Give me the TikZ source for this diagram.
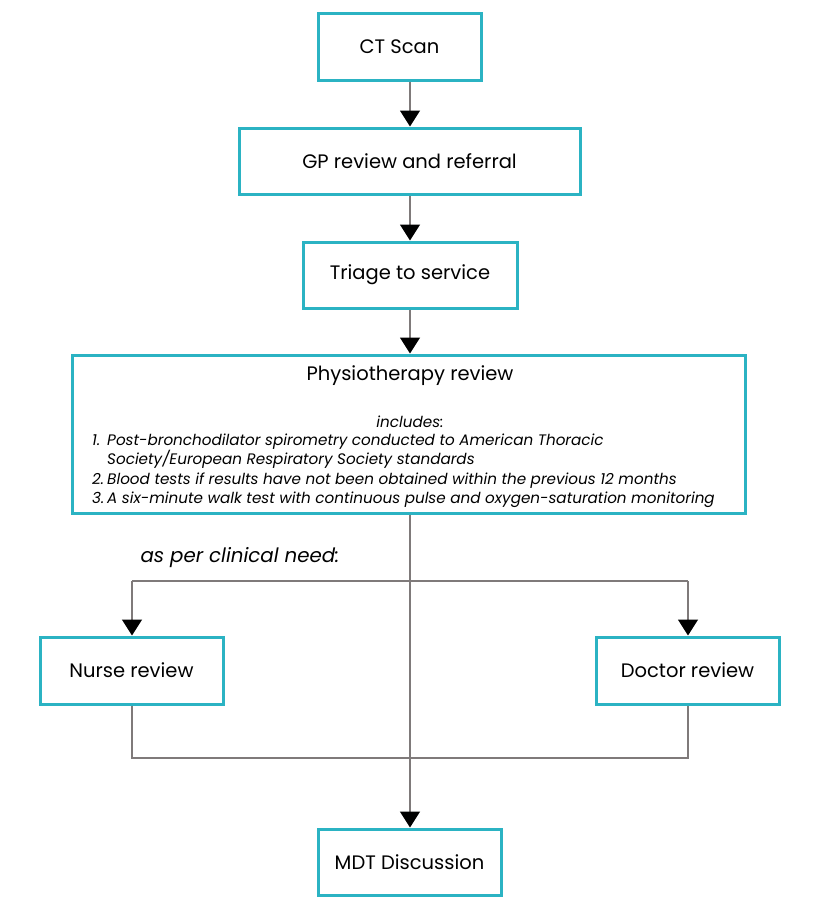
\documentclass[tikz,border=0pt]{standalone}
\usepackage{fontspec}
\setmainfont{Poppins}
\usetikzlibrary{arrows.meta}
\definecolor{boxteal}{HTML}{2BB3C3}
\definecolor{linegray}{HTML}{7F7A7A}
\begin{document}
\begin{tikzpicture}[x=1pt,y=-1pt,
  box/.style={draw=boxteal, line width=3pt, fill=white, inner sep=0pt, align=center,
    font=\fontsize{19.5}{23}\selectfont},
  conn/.style={draw=linegray, line width=1.3pt},
  arr/.style={conn, -{Triangle[length=16pt,width=20pt,color=black]}},
  listtxt/.style={anchor=base west, inner sep=0pt, font=\fontsize{15.2}{18}\selectfont\itshape}
]
\useasboundingbox[fill=white] (0,0) rectangle (818,921);

\node[box, minimum width=163pt, minimum height=67pt] (ct) at (399.5,46.5) {CT Scan};
\node[box, minimum width=341pt, minimum height=66pt] (gp) at (409.5,161) {GP review and referral};
\node[box, minimum width=214pt, minimum height=66pt] (tri) at (410,275) {Triage to service};
\node[box, minimum width=673pt, minimum height=158pt] (phys) at (408.5,434) {};
\node[box, minimum width=183pt, minimum height=67pt] (nurse) at (131.5,670.5) {Nurse review};
\node[box, minimum width=183pt, minimum height=67pt] (doc) at (687.5,670.5) {Doctor review};
\node[box, minimum width=183pt, minimum height=66pt] (mdt) at (409.5,862) {MDT Discussion};

% physiotherapy contents
\node[inner sep=0pt, font=\fontsize{19.5}{23}\selectfont] (ptitle) at (410,376) {Physiotherapy review};
\node[inner sep=0pt, font=\fontsize{15.2}{18}\selectfont\itshape] (incl) at (410,422) {includes:};
\node[listtxt] (n1) at (92,445) {1.};
\node[listtxt] (l1) at (107,445) {Post-bronchodilator spirometry conducted to American Thoracic};
\node[listtxt] (l1b) at (107,464) {Society/European Respiratory Society standards};
\node[listtxt] (n2) at (92,484) {2.};
\node[listtxt] (l2) at (107,484) {Blood tests if results have not been obtained within the previous 12 months};
\node[listtxt] (n3) at (92,503) {3.};
\node[listtxt] (l3) at (107,503) {A six-minute walk test with continuous pulse and oxygen-saturation monitoring};

\node[inner sep=0pt, font=\fontsize{19.8}{23}\selectfont\itshape] (need) at (240,558) {as per clinical need:};

% connectors
\coordinate (bl) at (132,581);
\coordinate (br) at (688,581);
\coordinate (ml) at (132,758);
\coordinate (mr) at (688,758);

\draw[arr] (ct.south -| 410,0) -- (gp.north -| 410,0);
\draw[arr] (gp.south -| 410,0) -- (tri.north -| 410,0);
\draw[arr] (tri.south -| 410,0) -- (phys.north -| 410,0);
\draw[conn] (bl) -- (br);
\draw[arr] (bl) -- (nurse.north -| bl);
\draw[arr] (br) -- (doc.north -| br);
\draw[conn] (nurse.south -| ml) -- (ml) -- (mr) -- (doc.south -| mr);
\draw[arr] (phys.south -| 410,0) -- (mdt.north -| 410,0);
\end{tikzpicture}
\end{document}
